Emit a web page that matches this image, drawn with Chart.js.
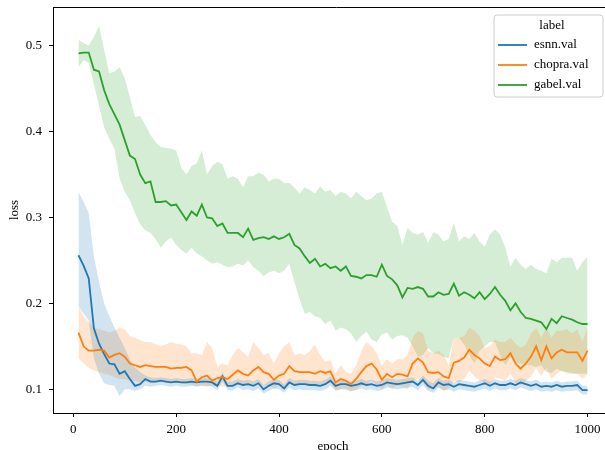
<!DOCTYPE html>
<html>
<head>
<meta charset="utf-8">
<script src="https://cdn.jsdelivr.net/npm/chart.js@4.4.1/dist/chart.umd.min.js"></script>
<style>
  html, body { margin: 0; padding: 0; background: #fff; overflow: hidden; }
  #wrap { width: 620px; height: 450px; }
</style>
</head>
<body>
<div id="wrap"><canvas id="loss-chart" width="620" height="450"></canvas></div>
<script>
var epochs = [10,20,30,40,50,60,70,80,90,100,110,120,130,140,150,160,170,180,190,200,
  210,220,230,240,250,260,270,280,290,300,310,320,330,340,350,360,370,380,390,400,
  410,420,430,440,450,460,470,480,490,500,510,520,530,540,550,560,570,580,590,600,
  610,620,630,640,650,660,670,680,690,700,710,720,730,740,750,760,770,780,790,800,
  810,820,830,840,850,860,870,880,890,900,910,920,930,940,950,960,970,980,990,1000];

var seriesNames = ['esnn.val', 'chopra.val', 'gabel.val'];
var xTicks = [0, 200, 400, 600, 800, 1000];
var yTicks = [0.1, 0.2, 0.3, 0.4, 0.5];

var esnnMean = [0.256,0.244,0.229,0.171,0.153,0.141,0.130,0.129,0.118,0.121,
  0.112,0.104,0.106,0.112,0.109,0.109,0.110,0.109,0.108,0.109,
  0.108,0.108,0.109,0.108,0.109,0.109,0.108,0.104,0.115,0.104,
  0.104,0.107,0.105,0.106,0.104,0.107,0.100,0.104,0.107,0.106,
  0.101,0.108,0.105,0.106,0.106,0.105,0.105,0.104,0.106,0.110,
  0.104,0.106,0.106,0.104,0.105,0.107,0.105,0.106,0.104,0.105,
  0.108,0.107,0.106,0.107,0.108,0.109,0.105,0.111,0.104,0.101,
  0.108,0.105,0.106,0.103,0.106,0.105,0.104,0.103,0.105,0.107,
  0.104,0.107,0.105,0.105,0.107,0.105,0.108,0.106,0.104,0.106,
  0.103,0.104,0.103,0.105,0.103,0.104,0.104,0.105,0.099,0.099];
var esnnHi = [0.330,0.318,0.305,0.255,0.225,0.200,0.185,0.172,0.160,0.148,
  0.135,0.125,0.120,0.116,0.114,0.113,0.114,0.113,0.112,0.113,
  0.112,0.112,0.113,0.112,0.113,0.113,0.112,0.109,0.120,0.109,
  0.109,0.112,0.110,0.111,0.109,0.112,0.105,0.109,0.112,0.111,
  0.106,0.113,0.110,0.111,0.111,0.110,0.110,0.109,0.111,0.115,
  0.109,0.111,0.111,0.109,0.110,0.112,0.110,0.111,0.109,0.110,
  0.113,0.112,0.111,0.112,0.113,0.114,0.110,0.116,0.110,0.107,
  0.113,0.110,0.111,0.108,0.111,0.110,0.109,0.108,0.110,0.112,
  0.109,0.112,0.110,0.110,0.112,0.110,0.113,0.111,0.109,0.111,
  0.108,0.109,0.108,0.110,0.108,0.109,0.109,0.110,0.104,0.104];
var esnnLo = [0.197,0.188,0.180,0.136,0.118,0.107,0.105,0.104,0.092,0.100,
  0.100,0.098,0.100,0.104,0.103,0.104,0.105,0.104,0.103,0.104,
  0.103,0.103,0.104,0.103,0.104,0.104,0.103,0.099,0.109,0.099,
  0.099,0.102,0.099,0.100,0.098,0.101,0.095,0.098,0.101,0.100,
  0.096,0.102,0.099,0.100,0.099,0.099,0.099,0.098,0.100,0.104,
  0.099,0.100,0.100,0.098,0.099,0.101,0.099,0.100,0.098,0.099,
  0.102,0.101,0.100,0.101,0.102,0.103,0.099,0.105,0.098,0.096,
  0.102,0.099,0.100,0.097,0.100,0.099,0.098,0.097,0.099,0.101,
  0.098,0.101,0.099,0.099,0.101,0.099,0.102,0.100,0.098,0.100,
  0.097,0.098,0.097,0.099,0.097,0.098,0.098,0.099,0.094,0.094];

var chopraMean = [0.166,0.150,0.145,0.145,0.146,0.145,0.137,0.140,0.142,0.138,
  0.130,0.128,0.126,0.128,0.127,0.126,0.126,0.126,0.124,0.125,
  0.125,0.126,0.122,0.109,0.114,0.116,0.110,0.113,0.114,0.112,
  0.117,0.122,0.118,0.116,0.122,0.126,0.120,0.118,0.111,0.116,
  0.118,0.127,0.121,0.120,0.120,0.120,0.118,0.121,0.119,0.121,
  0.108,0.112,0.110,0.106,0.112,0.120,0.127,0.130,0.123,0.111,
  0.118,0.114,0.118,0.117,0.115,0.130,0.136,0.131,0.120,0.119,
  0.120,0.115,0.113,0.131,0.133,0.137,0.146,0.140,0.136,0.130,
  0.127,0.138,0.134,0.135,0.142,0.130,0.124,0.130,0.138,0.150,
  0.134,0.150,0.136,0.143,0.146,0.143,0.143,0.143,0.133,0.145];
var chopraHi = [0.197,0.185,0.178,0.172,0.170,0.168,0.166,0.168,0.172,0.170,
  0.162,0.160,0.157,0.155,0.155,0.152,0.150,0.152,0.155,0.153,
  0.152,0.150,0.142,0.142,0.140,0.155,0.148,0.126,0.130,0.128,
  0.140,0.148,0.143,0.138,0.155,0.148,0.140,0.142,0.130,0.142,
  0.150,0.155,0.140,0.142,0.140,0.145,0.152,0.140,0.132,0.134,
  0.118,0.128,0.120,0.118,0.128,0.145,0.155,0.150,0.142,0.128,
  0.135,0.130,0.135,0.135,0.140,0.160,0.168,0.165,0.145,0.142,
  0.145,0.140,0.128,0.160,0.160,0.162,0.172,0.168,0.162,0.148,
  0.150,0.158,0.155,0.155,0.160,0.153,0.148,0.152,0.165,0.172,
  0.160,0.172,0.160,0.168,0.168,0.170,0.165,0.170,0.155,0.172];
var chopraLo = [0.136,0.130,0.125,0.122,0.120,0.118,0.117,0.114,0.112,0.112,
  0.110,0.110,0.108,0.109,0.108,0.108,0.109,0.108,0.107,0.108,
  0.107,0.106,0.105,0.104,0.104,0.103,0.104,0.104,0.103,0.104,
  0.105,0.108,0.105,0.104,0.106,0.107,0.104,0.105,0.101,0.104,
  0.103,0.107,0.105,0.106,0.106,0.104,0.104,0.106,0.106,0.108,
  0.098,0.100,0.100,0.097,0.100,0.104,0.106,0.110,0.105,0.100,
  0.105,0.101,0.104,0.103,0.100,0.110,0.112,0.108,0.100,0.100,
  0.102,0.098,0.100,0.110,0.108,0.112,0.122,0.115,0.110,0.108,
  0.106,0.114,0.112,0.110,0.118,0.108,0.105,0.110,0.115,0.125,
  0.115,0.125,0.112,0.118,0.122,0.118,0.118,0.118,0.112,0.118];

var gabelMean = [0.491,0.492,0.492,0.472,0.470,0.448,0.432,0.420,0.408,0.390,
  0.372,0.368,0.350,0.340,0.342,0.318,0.318,0.319,0.314,0.315,
  0.306,0.297,0.307,0.302,0.315,0.300,0.299,0.290,0.293,0.282,
  0.282,0.282,0.277,0.287,0.274,0.276,0.277,0.275,0.278,0.275,
  0.277,0.281,0.268,0.264,0.255,0.247,0.252,0.243,0.246,0.241,
  0.243,0.238,0.243,0.232,0.231,0.229,0.233,0.233,0.231,0.245,
  0.232,0.228,0.221,0.207,0.218,0.217,0.219,0.217,0.208,0.208,
  0.213,0.210,0.211,0.223,0.209,0.213,0.210,0.206,0.213,0.205,
  0.211,0.219,0.210,0.203,0.192,0.200,0.190,0.183,0.182,0.180,
  0.178,0.170,0.182,0.177,0.185,0.183,0.181,0.178,0.176,0.176];
var gabelHi = [0.507,0.503,0.500,0.510,0.523,0.495,0.468,0.470,0.475,0.462,
  0.440,0.417,0.418,0.408,0.396,0.388,0.382,0.381,0.380,0.378,
  0.358,0.350,0.360,0.363,0.378,0.350,0.360,0.365,0.362,0.345,
  0.348,0.345,0.335,0.348,0.348,0.352,0.350,0.342,0.345,0.345,
  0.340,0.340,0.335,0.328,0.335,0.332,0.328,0.336,0.330,0.332,
  0.325,0.330,0.328,0.322,0.330,0.325,0.320,0.322,0.328,0.330,
  0.312,0.295,0.290,0.268,0.288,0.282,0.280,0.283,0.270,0.283,
  0.280,0.272,0.275,0.294,0.272,0.278,0.275,0.282,0.272,0.266,
  0.280,0.286,0.280,0.265,0.243,0.253,0.245,0.240,0.245,0.240,
  0.238,0.235,0.252,0.248,0.253,0.253,0.253,0.238,0.248,0.255];
var gabelLo = [0.475,0.483,0.480,0.455,0.430,0.405,0.392,0.380,0.345,0.330,
  0.320,0.305,0.292,0.285,0.282,0.275,0.265,0.272,0.277,0.268,
  0.262,0.258,0.265,0.258,0.255,0.250,0.246,0.248,0.245,0.242,
  0.243,0.246,0.244,0.250,0.242,0.238,0.232,0.236,0.238,0.235,
  0.238,0.246,0.225,0.205,0.188,0.190,0.185,0.183,0.176,0.180,
  0.168,0.172,0.170,0.165,0.155,0.162,0.167,0.158,0.155,0.164,
  0.166,0.158,0.162,0.163,0.160,0.150,0.138,0.140,0.148,0.142,
  0.141,0.138,0.136,0.160,0.160,0.152,0.140,0.130,0.145,0.150,
  0.155,0.155,0.140,0.128,0.137,0.130,0.130,0.128,0.128,0.126,
  0.128,0.120,0.119,0.124,0.121,0.120,0.119,0.118,0.118,0.118];

var lineColors = ['#1f77b4', '#ff7f0e', '#2ca02c'];
var bandColors = ['rgba(31,119,180,0.2)', 'rgba(255,127,14,0.2)', 'rgba(44,160,44,0.2)'];

function pts(vals) {
  return vals.map(function(v, i) { return { x: epochs[i], y: v }; });
}

var means = [esnnMean, chopraMean, gabelMean];
var his = [esnnHi, chopraHi, gabelHi];
var los = [esnnLo, chopraLo, gabelLo];

var datasets = [];
for (var s = 0; s < 3; s++) {
  datasets.push({ label: '', data: pts(his[s]), borderWidth: 0, pointRadius: 0,
    backgroundColor: bandColors[s], fill: '+1', order: 10 + s });
  datasets.push({ label: '', data: pts(los[s]), borderWidth: 0, pointRadius: 0,
    fill: false, order: 10 + s });
  datasets.push({ label: seriesNames[s], data: pts(means[s]), borderColor: lineColors[s],
    borderWidth: 1.8, pointRadius: 0, fill: false, order: 3 - s, isMain: true });
}

var serif = "'Liberation Serif', 'DejaVu Serif', serif";

var framePlugin = {
  id: 'frame',
  afterDraw: function(chart) {
    var ctx = chart.ctx, a = chart.chartArea;
    ctx.save();
    // top spine only; the right one sits past the window edge
    ctx.strokeStyle = '#000';
    ctx.lineWidth = 1;
    ctx.beginPath();
    ctx.moveTo(a.left, a.top + 0.5);
    ctx.lineTo(chart.width, a.top + 0.5);
    ctx.stroke();

    // legend box, top right inside the axes
    var bx = 494, by = 15, bw = 109, bh = 82, r = 3;
    ctx.beginPath();
    ctx.moveTo(bx + r, by);
    ctx.arcTo(bx + bw, by, bx + bw, by + bh, r);
    ctx.arcTo(bx + bw, by + bh, bx, by + bh, r);
    ctx.arcTo(bx, by + bh, bx, by, r);
    ctx.arcTo(bx, by, bx + bw, by, r);
    ctx.closePath();
    ctx.fillStyle = 'rgba(255,255,255,0.8)';
    ctx.fill();
    ctx.strokeStyle = '#cccccc';
    ctx.stroke();

    ctx.fillStyle = '#000';
    ctx.font = '13px ' + serif;
    ctx.textBaseline = 'middle';
    ctx.textAlign = 'center';
    ctx.fillText('label', 552, 26);
    ctx.textAlign = 'left';
    var k = 0;
    chart.data.datasets.forEach(function(d) {
      if (!d.isMain) return;
      var y = 45 + k * 20;
      ctx.strokeStyle = d.borderColor;
      ctx.lineWidth = 1.8;
      ctx.beginPath();
      ctx.moveTo(498, y);
      ctx.lineTo(527, y);
      ctx.stroke();
      ctx.fillText(d.label, 534, y);
      k++;
    });
    ctx.restore();
  }
};

var ctx = document.getElementById('loss-chart').getContext('2d');
new Chart(ctx, {
  type: 'line',
  data: { datasets: datasets },
  plugins: [framePlugin],
  options: {
    responsive: false,
    animation: false,
    layout: { padding: { top: 7, right: 7, left: 0, bottom: 0 } },
    plugins: {
      legend: { display: false },
      tooltip: { enabled: false }
    },
    scales: {
      x: {
        type: 'linear',
        min: -39.5,
        max: 1049.5,
        afterBuildTicks: function(scale) {
          scale.ticks = xTicks.map(function(v) { return { value: v }; });
        },
        afterFit: function(scale) {
          scale.height = 37;
          scale.paddingLeft = 0;
          scale.paddingRight = 0;
        },
        grid: { drawOnChartArea: false, drawTicks: true, tickLength: 4, color: '#000' },
        border: { display: true, color: '#000', width: 1 },
        ticks: { color: '#000', font: { family: serif, size: 13 }, padding: 5, maxRotation: 0,
          callback: function(v) { return String(v); } },
        title: { display: true, text: 'epoch', color: '#000', font: { family: serif, size: 13 },
          padding: { top: 0, bottom: -4 } }
      },
      y: {
        type: 'linear',
        min: 0.0724,
        max: 0.545,
        afterBuildTicks: function(scale) {
          scale.ticks = yTicks.map(function(v) { return { value: v }; });
        },
        afterFit: function(scale) {
          scale.width = 53;
          scale.paddingTop = 0;
          scale.paddingBottom = 0;
        },
        grid: { drawOnChartArea: false, drawTicks: true, tickLength: 4, color: '#000' },
        border: { display: true, color: '#000', width: 1 },
        ticks: { color: '#000', font: { family: serif, size: 13 }, padding: 7,
          callback: function(v) { return v.toFixed(1); } },
        title: { display: true, text: 'loss', color: '#000', font: { family: serif, size: 13 },
          padding: { top: 7, bottom: 0 } }
      }
    }
  }
});
</script>
</body>
</html>
